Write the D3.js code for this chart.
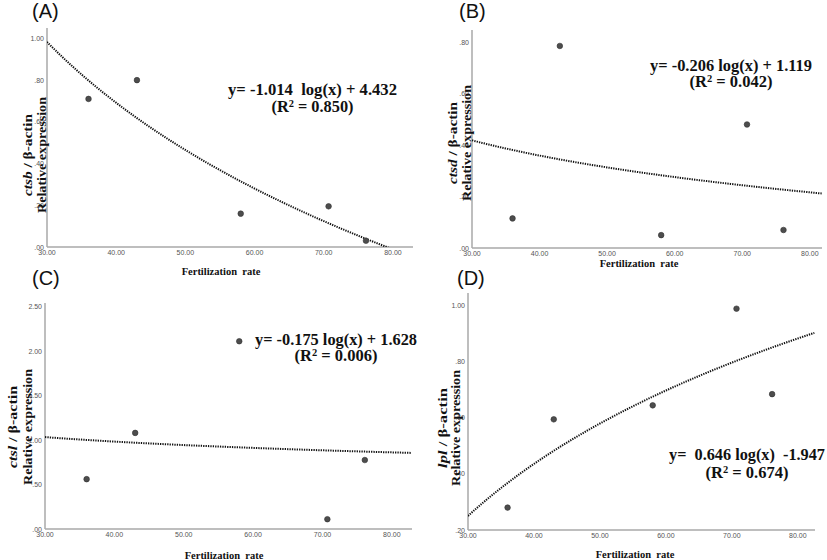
<!DOCTYPE html>
<html><head><meta charset="utf-8">
<script src="https://cdn.jsdelivr.net/npm/d3@7"></script>
<style>
html,body{margin:0;padding:0;background:#fff;}
svg{display:block;}
.eq{font-family:"Liberation Serif","Times New Roman",serif;font-weight:bold;fill:#111;white-space:pre;}
.ttl{font-family:"Liberation Serif","Times New Roman",serif;font-weight:bold;fill:#111;white-space:pre;}
.tick{font-family:"Liberation Sans",Arial,sans-serif;fill:#555;}
.plab{font-family:"Liberation Sans",Arial,sans-serif;fill:#111;}
</style>
</head><body>
<svg id="c" width="827" height="560"></svg>
<script>
// ---- data ----
const fertRate = [36, 43, 58, 70.7, 76.1];
const ctsbExpr = [0.71, 0.80, 0.16, 0.195, 0.03];
const ctsdExpr = [0.115, 0.785, 0.05, 0.48, 0.07];
const ctslExpr = [0.56, 1.08, 2.11, 0.11, 0.775];
const lplExpr  = [0.28, 0.595, 0.645, 0.99, 0.685];
// log fit coefficients [slope, intercept] as printed in the chart
const ctsbFit = [-1.014, 4.432];
const ctsdFit = [-0.206, 1.119];
const ctslFit = [-0.175, 1.628];
const lplFit  = [0.646, -1.947];
const fitLabels = [
  ["y= -1.014  log(x) + 4.432", "0.850"],
  ["y= -0.206 log(x) + 1.119", "0.042"],
  ["y= -0.175 log(x) + 1.628", "0.006"],
  ["y=  0.646 log(x)  -1.947", "0.674"]
];
const geneNames = ["ctsb", "ctsd", "ctsl", "lpl"];
const panelLetters = ["(A)", "(B)", "(C)", "(D)"];
const xTicks = [30, 40, 50, 60, 70, 80];
const yTicksA = [0, 0.2, 0.4, 0.6, 0.8, 1.0];
const yTicksB = [0, 0.2, 0.4, 0.6, 0.8];
const yTicksC = [0, 0.5, 1.0, 1.5, 2.0, 2.5];
const yTicksD = [0.2, 0.4, 0.6, 0.8, 1.0];

// ---- layout ----
const panels = [
  {y: ctsbExpr, fit: ctsbFit, yt: yTicksA, xd:[30,82.9], yd:[0,1.05], L:47, R:413, B:247, T:28,
   eq:{x:312.5, y:95, dy:17, w1:169, w2:82}, lab:{x:32, y:18}, xt:{x:221, y:275},
   yl:{cy:155, x1:32, x2:45.5, gw:82}},
  {y: ctsdExpr, fit: ctsdFit, yt: yTicksB, xd:[30,81.8], yd:[0,0.847], L:472, R:822, B:248, T:30,
   eq:{x:731, y:71, dy:16, w1:162, w2:83}, lab:{x:459, y:18}, xt:{x:639, y:267},
   yl:{cy:143, x1:457, x2:470.5, gw:82}},
  {y: ctslExpr, fit: ctslFit, yt: yTicksC, xd:[30,82.9], yd:[0,2.54], L:45, R:412, B:529, T:303,
   eq:{x:336, y:345, dy:16, w1:162, w2:83}, lab:{x:32, y:285}, xt:{x:224, y:559},
   yl:{cy:427, x1:17, x2:31.5, gw:82}},
  {y: lplExpr, fit: lplFit, yt: yTicksD, xd:[30,82.6], yd:[0.2,1.046], L:468, R:815, B:530, T:293,
   eq:{x:747, y:460, dy:18, w1:156, w2:83}, lab:{x:457, y:285}, xt:{x:635, y:558},
   yl:{cy:428, x1:446.5, x2:460, gw:80}}
];

const svg = d3.select("#c");
const fmt = d => { const s = d3.format(".2f")(d); return d < 1 ? s.replace(/^0/, "") : s; };

panels.forEach((p, i) => {
  const x = d3.scaleLinear().domain(p.xd).range([p.L, p.R]);
  const y = d3.scaleLinear().domain(p.yd).range([p.B, p.T]);
  const g = svg.append("g");

  // axes lines
  g.append("line").attr("x1", p.L).attr("x2", p.L).attr("y1", p.T).attr("y2", p.B)
    .attr("stroke", "#a8a8a8").attr("stroke-width", 1.5);
  g.append("line").attr("x1", p.L).attr("x2", p.R).attr("y1", p.B).attr("y2", p.B)
    .attr("stroke", "#a8a8a8").attr("stroke-width", 1.5);

  // tick labels
  g.selectAll(".xt").data(xTicks).enter().append("text").attr("class", "tick")
    .attr("x", d => x(d)).attr("y", p.B + 8).attr("text-anchor", "middle")
    .attr("font-size", 7).text(d => fmt(d));
  g.selectAll(".yt").data(p.yt).enter().append("text").attr("class", "tick")
    .attr("x", p.L - 3).attr("y", d => y(d) + 2.5).attr("text-anchor", "end")
    .attr("font-size", 7).text(d => fmt(d));

  // fitted curve
  const cid = "clip" + i;
  svg.append("clipPath").attr("id", cid).append("rect")
    .attr("x", p.L).attr("y", p.T).attr("width", p.R - p.L).attr("height", p.B - p.T);
  const xs = d3.range(p.xd[0], p.xd[1] + 0.001, 0.25);
  const line = d3.line().x(d => x(d)).y(d => y(p.fit[0] * Math.log(d) + p.fit[1]));
  g.append("path").datum(xs).attr("d", line).attr("clip-path", `url(#${cid})`)
    .attr("fill", "none").attr("stroke", "#111").attr("stroke-width", 2)
    .attr("stroke-dasharray", "1.3,1.1");

  // points
  g.selectAll(".pt").data(fertRate).enter().append("circle")
    .attr("cx", d => x(d)).attr("cy", (d, j) => y(p.y[j])).attr("r", 2.8)
    .attr("fill", "#4d4d4d").attr("stroke", "#333").attr("stroke-width", 0.6);

  // equation
  g.append("text").attr("class", "eq").attr("font-size", 16.5)
    .attr("text-anchor", "middle").attr("xml:space", "preserve")
    .attr("x", p.eq.x).attr("y", p.eq.y)
    .attr("textLength", p.eq.w1).attr("lengthAdjust", "spacingAndGlyphs")
    .text(fitLabels[i][0]);
  const l2 = g.append("text").attr("class", "eq").attr("font-size", 16.5)
    .attr("text-anchor", "middle").attr("x", p.eq.x).attr("y", p.eq.y + p.eq.dy)
    .attr("textLength", p.eq.w2).attr("lengthAdjust", "spacingAndGlyphs");
  l2.append("tspan").text("(R");
  l2.append("tspan").attr("font-size", 10.5).attr("dy", -5.5).text("2");
  l2.append("tspan").attr("dy", 5.5).text(" = " + fitLabels[i][1] + ")");

  // panel letter
  g.append("text").attr("class", "plab").attr("font-size", 20)
    .attr("x", p.lab.x).attr("y", p.lab.y).text(panelLetters[i]);

  // x title
  g.append("text").attr("class", "ttl").attr("font-size", 10.5).attr("text-anchor", "middle")
    .attr("xml:space", "preserve")
    .attr("x", p.xt.x).attr("y", p.xt.y).text("Fertilization  rate");

  // y title
  const t1 = g.append("text").attr("class", "ttl").attr("font-size", 12).attr("text-anchor", "middle")
    .attr("textLength", p.yl.gw).attr("lengthAdjust", "spacingAndGlyphs")
    .attr("transform", `translate(${p.yl.x1},${p.yl.cy}) rotate(-90)`);
  t1.append("tspan").attr("font-style", "italic").text(geneNames[i]);
  t1.append("tspan").text(" / β-actin");
  g.append("text").attr("class", "ttl").attr("font-size", 12).attr("text-anchor", "middle")
    .attr("textLength", 116).attr("lengthAdjust", "spacingAndGlyphs")
    .attr("transform", `translate(${p.yl.x2},${p.yl.cy}) rotate(-90)`).text("Relative expression");
});
</script>
</body></html>
